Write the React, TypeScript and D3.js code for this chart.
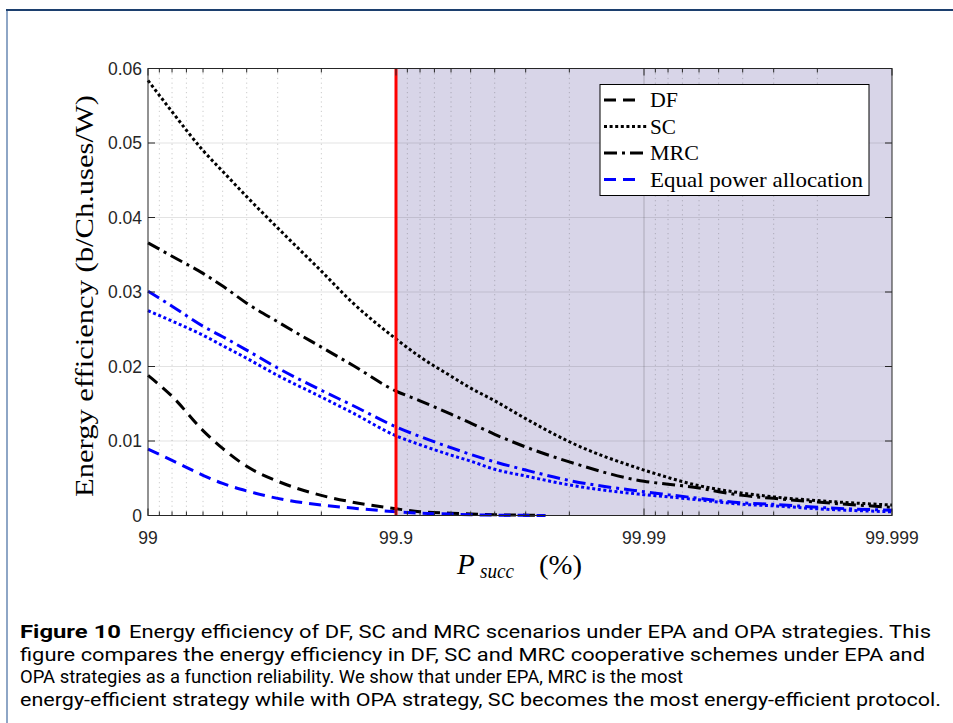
import React from "react";
import * as d3 from "d3";

// ---------- data ----------
const pSucc = [99, 99.2, 99.4, 99.5, 99.6, 99.7, 99.8, 99.85, 99.9, 99.92, 99.94, 99.95, 99.96, 99.97, 99.98, 99.99, 99.992, 99.994, 99.995, 99.996, 99.997, 99.998, 99.999];
const scOPA = [0.0584, 0.0542, 0.049, 0.0462, 0.0428, 0.0386, 0.0328, 0.0286, 0.0237, 0.0213, 0.0187, 0.0171, 0.0154, 0.013, 0.0099, 0.0061, 0.0051, 0.004, 0.0035, 0.003, 0.0025, 0.002, 0.0014];
const mrcOPA = [0.0366, 0.0348, 0.0325, 0.0308, 0.0285, 0.026, 0.0226, 0.0202, 0.0167, 0.0154, 0.0136, 0.0124, 0.0109, 0.0092, 0.0072, 0.0046, 0.0042, 0.0037, 0.0032, 0.0027, 0.0023, 0.0018, 0.0011];
const mrcEPA = [0.0301, 0.0281, 0.0254, 0.024, 0.0222, 0.0198, 0.0168, 0.0148, 0.0119, 0.0106, 0.0091, 0.0082, 0.0072, 0.0061, 0.0047, 0.0032, 0.0028, 0.0023, 0.002, 0.0017, 0.0015, 0.0011, 0.0007];
const scEPA = [0.0275, 0.0261, 0.0242, 0.0228, 0.0211, 0.0188, 0.0159, 0.0138, 0.0107, 0.0095, 0.0081, 0.0073, 0.0062, 0.0053, 0.0041, 0.0028, 0.0025, 0.0021, 0.0018, 0.0015, 0.0013, 0.0009, 0.0005];
const pSuccDF = [99, 99.2, 99.4, 99.5, 99.6, 99.7, 99.8, 99.85, 99.9, 99.92, 99.94, 99.95, 99.96, 99.97, 99.975];
const dfOPA = [0.0188, 0.016, 0.0114, 0.009, 0.0066, 0.0046, 0.0027, 0.0018, 0.0009, 0.0005, 0.0003, 0.0002, 0.0001, 0.00005, 0];
const dfEPA = [0.0089, 0.0074, 0.0054, 0.0043, 0.0033, 0.0023, 0.0014, 0.001, 0.0005, 0.0003, 0.0002, 0.0001, 0.00005, 0.00002, 0];

const xTicks = [99, 99.9, 99.99, 99.999];
const xTickLabels = ["99", "99.9", "99.99", "99.999"];
const yTicks = [0, 0.01, 0.02, 0.03, 0.04, 0.05, 0.06];
const yTickLabels = ["0", "0.01", "0.02", "0.03", "0.04", "0.05", "0.06"];
const threshold = 99.9;
const legendLabels = ["DF", "SC", "MRC", "Equal power allocation"];
const captionTitle = "Figure 10";
const captionLines = [
  "Energy efficiency of DF, SC and MRC scenarios under EPA and OPA strategies. This",
  "figure compares the energy efficiency in DF, SC and MRC cooperative schemes under EPA and",
  "OPA strategies as a function reliability. We show that under EPA, MRC is the most",
  "energy-efficient strategy while with OPA strategy, SC becomes the most energy-efficient protocol.",
];

// ---------- layout ----------
const W = 953, H = 723;
const L = 148, R = 892, T = 68.5, B = 515.5;
const capStarts = [129, 20, 20, 20];
const capEnds = [931, 925, 683, 941];

const DASH = "12,7";
const DOT = "3,2.6";
const DASHDOT = "13,5,3,5";

export default function App() {
  const x = d3.scaleLog().domain([1, 0.001]).range([L, R]);
  const xp = (p: number) => x(100 - p);
  const y = d3.scaleLinear().domain([0, 0.06]).range([B, T]);

  const mk = (ps: number[], vs: number[]) =>
    d3.line<number>().x((_, i) => xp(ps[i])).y((v) => y(v)).curve(d3.curveMonotoneX)(vs) || "";

  const minorU: number[] = [];
  [1, 0.1, 0.01].forEach((k) => {
    for (let m = 9; m >= 2; m--) minorU.push((m / 10) * k);
  });

  const series = [
    { ps: pSuccDF, vs: dfOPA, color: "#000", dash: DASH },
    { ps: pSucc, vs: scOPA, color: "#000", dash: DOT },
    { ps: pSucc, vs: mrcOPA, color: "#000", dash: DASHDOT },
    { ps: pSucc, vs: mrcEPA, color: "#0000ff", dash: DASHDOT },
    { ps: pSucc, vs: scEPA, color: "#0000ff", dash: DOT },
    { ps: pSuccDF, vs: dfEPA, color: "#0000ff", dash: DASH },
  ];

  const legendItems = [
    { color: "#000", dash: DASH, x2: 640, tl: 28 },
    { color: "#000", dash: DOT, x2: 647, tl: 26 },
    { color: "#000", dash: DASHDOT, x2: 647, tl: 49 },
    { color: "#0000ff", dash: DASH, x2: 640, tl: 213 },
  ];

  const tickFont = "Arial, 'Liberation Sans', Helvetica, sans-serif";
  const serif = "'Liberation Serif', 'Times New Roman', serif";
  const capFont = "Roboto, 'Noto Sans', sans-serif";
  const axisCol = "#262626";

  return (
    <svg width={W} height={H} style={{ position: "absolute", left: 0, top: 0, background: "#fff" }}>
      {/* page frame */}
      <line x1={7} y1={10} x2={7} y2={H} stroke="#8ea6c6" strokeWidth={2} />
      <line x1={6} y1={10} x2={W} y2={10} stroke="#1c3f6e" strokeWidth={2} />

      {/* shaded region */}
      <rect x={xp(threshold)} y={T} width={R - xp(threshold)} height={B - T} fill="#d8d5e8" />

      {/* minor vertical grid */}
      {minorU.map((u, i) => (
        <line key={"mg" + i} x1={x(u)} x2={x(u)} y1={T} y2={B} stroke={axisCol} strokeOpacity={0.3} strokeWidth={0.8} strokeDasharray="1.2,3.5" />
      ))}
      {/* major grid */}
      {yTicks.slice(1, -1).map((t, i) => (
        <line key={"gy" + i} x1={L} x2={R} y1={y(t)} y2={y(t)} stroke={axisCol} strokeOpacity={0.13} strokeWidth={1} />
      ))}
      {xTicks.slice(1, -1).map((t, i) => (
        <line key={"gx" + i} x1={xp(t)} x2={xp(t)} y1={T} y2={B} stroke={axisCol} strokeOpacity={0.25} strokeWidth={1} />
      ))}

      {/* curves */}
      {series.map((s, i) => (
        <path key={"s" + i} d={mk(s.ps, s.vs)} fill="none" stroke={s.color} strokeWidth={3} strokeDasharray={s.dash} />
      ))}

      {/* red threshold line */}
      <line x1={xp(threshold)} x2={xp(threshold)} y1={T} y2={B} stroke="#ff0000" strokeWidth={3} />

      {/* axes box */}
      <rect x={L} y={T} width={R - L} height={B - T} fill="none" stroke={axisCol} strokeWidth={1} />
      {xTicks.map((t, i) => (
        <g key={"xt" + i}>
          <line x1={xp(t)} x2={xp(t)} y1={B} y2={B - 7} stroke={axisCol} />
          <line x1={xp(t)} x2={xp(t)} y1={T} y2={T + 7} stroke={axisCol} />
          <text x={xp(t)} y={543.5} textAnchor="middle" fontFamily={tickFont} fontSize={17.5} fill={axisCol}>{xTickLabels[i]}</text>
        </g>
      ))}
      {minorU.map((u, i) => (
        <g key={"mt" + i}>
          <line x1={x(u)} x2={x(u)} y1={B} y2={B - 4} stroke={axisCol} />
          <line x1={x(u)} x2={x(u)} y1={T} y2={T + 4} stroke={axisCol} />
        </g>
      ))}
      {yTicks.map((t, i) => (
        <g key={"yt" + i}>
          <line x1={L} x2={L + 7} y1={y(t)} y2={y(t)} stroke={axisCol} />
          <line x1={R} x2={R - 7} y1={y(t)} y2={y(t)} stroke={axisCol} />
          <text x={142} y={y(t) + 6} textAnchor="end" fontFamily={tickFont} fontSize={17.5} fill={axisCol}>{yTickLabels[i]}</text>
        </g>
      ))}

      {/* axis labels */}
      <text transform="translate(93,296) rotate(-90)" textAnchor="middle" fontFamily={serif} fontSize={26} fill="#000" textLength={402} lengthAdjust="spacingAndGlyphs">
        Energy efficiency (b/Ch.uses/W)
      </text>
      <text x={457} y={574} fontFamily={serif} fontSize={29} fontStyle="italic" fill="#000">P</text>
      <text x={480} y={578} fontFamily={serif} fontSize={20} fontStyle="italic" fill="#000" textLength={34} lengthAdjust="spacingAndGlyphs">succ</text>
      <text x={539} y={574} fontFamily={serif} fontSize={27} fill="#000" textLength={43} lengthAdjust="spacingAndGlyphs">(%)</text>

      {/* legend */}
      <rect x={600} y={84.5} width={269} height={111} fill="#fff" stroke="#000" strokeWidth={1} />
      {legendItems.map((it, i) => {
        const yy = 100 + i * 26.5;
        return (
          <g key={"lg" + i}>
            <line x1={604} x2={it.x2} y1={yy} y2={yy} stroke={it.color} strokeWidth={3} strokeDasharray={it.dash} />
            <text x={650} y={yy + 7} fontFamily={serif} fontSize={21} fill="#000" textLength={it.tl} lengthAdjust="spacingAndGlyphs">{legendLabels[i]}</text>
          </g>
        );
      })}

      {/* caption */}
      <text x={20} y={638} fontFamily={capFont} fontWeight="bold" fontSize={17.5} fill="#000" textLength={101} lengthAdjust="spacingAndGlyphs">{captionTitle}</text>
      {captionLines.map((ln, i) => (
        <text key={"c" + i} x={capStarts[i]} y={638 + i * 22.5} fontFamily={capFont} fontSize={17.5} fill="#000" textLength={capEnds[i] - capStarts[i]} lengthAdjust="spacingAndGlyphs">
          {ln}
        </text>
      ))}
    </svg>
  );
}
